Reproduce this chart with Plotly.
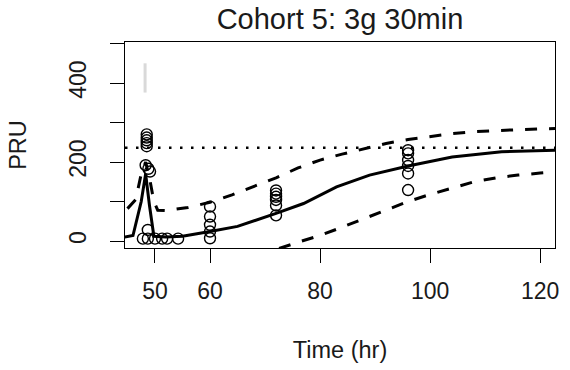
import plotly.graph_objects as go

# Observed PRU values
obs_time = [48.5, 48.5, 48.5, 48.5, 48.5, 48.3, 48.8, 49.1,
            47.8, 48.7, 48.7, 50.0, 51.3, 52.2, 54.2,
            60, 60, 60, 60, 60,
            72, 72, 72, 72, 72, 72,
            96, 96, 96, 96, 96, 96]
obs_pru = [270, 262, 255, 248, 240, 192, 183, 176,
           6, 6, 28, 6, 6, 6, 6,
           87, 62, 41, 24, 7,
           128, 120, 112, 104, 90, 65,
           230, 222, 205, 190, 171, 129]

# Model prediction: median
med_time = [44.5, 46, 47.5, 48.3, 49, 49.8, 52, 55, 60, 65, 72, 77, 83, 89, 96, 104, 113, 122.7]
med_pru = [10, 14, 100, 170, 90, 12, 10, 12, 24, 37, 70, 95, 137, 167, 190, 213, 226, 230]

# Upper prediction bound
up_time = [45, 46.5, 47.5, 48.3, 49, 49.8, 50.5, 52, 56, 60, 64, 68, 72, 76, 80, 84, 88,
           92, 96, 100, 104, 108, 112, 116, 120, 122.7]
up_pru = [82, 105, 170, 200, 160, 100, 78, 77, 85, 98, 117, 138, 160, 185, 205, 220, 233,
          247, 257, 265, 272, 277, 280, 282, 284, 285]

# Lower prediction bound
lo_time = [60, 68, 76, 80, 84, 88, 92, 96, 100, 104, 108, 112, 116, 120, 122.7]
lo_pru = [-70, -40, -3, 14, 35, 57, 80, 100, 118, 134, 150, 160, 167, 172, 175]

# Reference threshold and dosing marker
threshold = 236
dose_time = [48.2, 48.2]
dose_range = [376, 450]

x_ticks = [50, 60, 80, 100, 120]
y_ticks = [0, 100, 200, 300, 400, 500]
y_ticktext = ["0", "", "200", "", "400", ""]

FONT = "Liberation Sans, Arial, sans-serif"
TXT = "#1a1a1a"

fig = go.Figure()
fig.add_trace(go.Scatter(x=dose_time, y=dose_range, mode="lines",
                         line=dict(color="#d9d9d9", width=3), hoverinfo="skip"))
fig.add_trace(go.Scatter(x=up_time, y=up_pru, mode="lines",
                         line=dict(color="black", width=3, dash="12px,12px")))
fig.add_trace(go.Scatter(x=lo_time, y=lo_pru, mode="lines",
                         line=dict(color="black", width=3, dash="12px,12px")))
fig.add_trace(go.Scatter(x=med_time, y=med_pru, mode="lines",
                         line=dict(color="black", width=3)))
fig.add_trace(go.Scatter(x=obs_time, y=obs_pru, mode="markers",
                         marker=dict(symbol="circle-open", size=11,
                                     line=dict(color="black", width=1.4), color="black")))
fig.add_hline(y=threshold, line=dict(color="black", width=2.5, dash="2.5px,8.5px"))

fig.update_layout(
    width=570, height=370,
    margin=dict(l=125, r=15, t=42, b=122),
    paper_bgcolor="white", plot_bgcolor="white",
    showlegend=False,
    font=dict(family=FONT, size=23, color=TXT),
    title=dict(text="Cohort 5: 3g 30min", x=0.5, xref="paper", xanchor="center",
               y=1 - 19 / 370, yref="container", yanchor="middle",
               font=dict(size=29, family=FONT, color=TXT)),
    xaxis=dict(range=[44.55, 122.7], tickvals=x_ticks, ticks="outside", ticklen=14,
               tickwidth=1.3, tickcolor="black", showline=True, mirror=True,
               linecolor="black", linewidth=1.3, showgrid=False, zeroline=False,
               ticklabelstandoff=8, tickfont=dict(size=23, family=FONT, color=TXT),
               title=dict(text="Time (hr)", standoff=38,
                          font=dict(size=23.5, family=FONT, color=TXT))),
    yaxis=dict(range=[-17.7, 504], tickvals=y_ticks, ticktext=y_ticktext, tickangle=-90,
               ticks="outside", ticklen=14, tickwidth=1.3, tickcolor="black",
               showline=True, mirror=True, linecolor="black", linewidth=1.3,
               showgrid=False, zeroline=False, ticklabelstandoff=15,
               tickfont=dict(size=23, family=FONT, color=TXT),
               title=dict(text="PRU", standoff=31,
                          font=dict(size=23.5, family=FONT, color=TXT))),
)

fig.write_html("out.html")
